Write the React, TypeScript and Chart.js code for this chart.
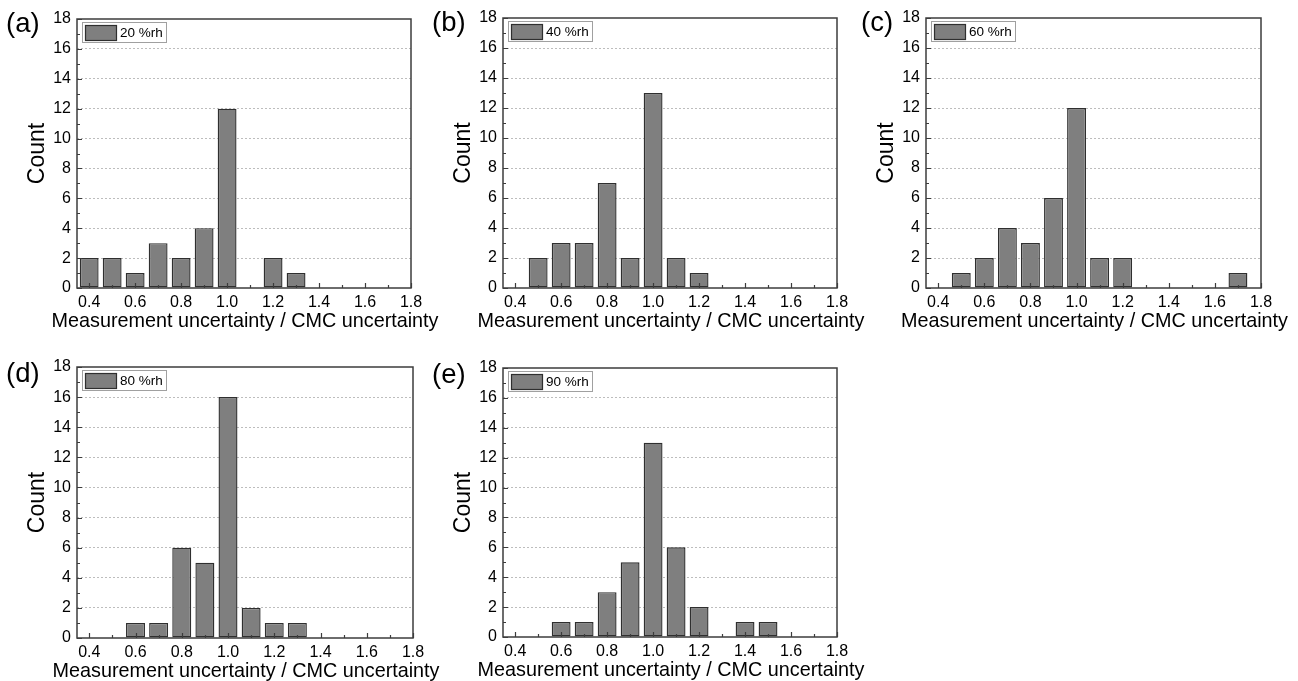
import React, { useEffect, useRef } from "react";
import { Chart, registerables } from "chart.js";

Chart.register(...registerables);

// ---------------- data ----------------
const bins = [0.4, 0.5, 0.6, 0.7, 0.8, 0.9, 1.0, 1.1, 1.2, 1.3, 1.4, 1.5, 1.6, 1.7];
const counts20 = [2, 2, 1, 3, 2, 4, 12, 0, 2, 1, 0, 0, 0, 0];
const counts40 = [0, 2, 3, 3, 7, 2, 13, 2, 1, 0, 0, 0, 0, 0];
const counts60 = [0, 1, 2, 4, 3, 6, 12, 2, 2, 0, 0, 0, 0, 1];
const counts80 = [0, 0, 1, 1, 6, 5, 16, 2, 1, 1, 0, 0, 0, 0];
const counts90 = [0, 0, 1, 1, 3, 5, 13, 6, 2, 0, 1, 1, 0, 0];
const seriesLabels = ["20 %rh", "40 %rh", "60 %rh", "80 %rh", "90 %rh"];
const panelLabels = ["(a)", "(b)", "(c)", "(d)", "(e)"];
const xTickValues = [0.4, 0.6, 0.8, 1.0, 1.2, 1.4, 1.6, 1.8];
const xMinorTickValues = [0.5, 0.7, 0.9, 1.1, 1.3, 1.5, 1.7];
const yTickValues = [0, 2, 4, 6, 8, 10, 12, 14, 16, 18];
const yMinorTickValues = [1, 3, 5, 7, 9, 11, 13, 15, 17];
const xMin = 0.347;
const xMax = 1.8;
const yMin = 0;
const yMax = 18;
const xTitle = "Measurement uncertainty / CMC uncertainty";
const yTitle = "Count";

// ---------------- layout (pixels) ----------------
const PAGE_W = 1298;
const PAGE_H = 681;
const Y_AXIS_W = 70;
const X_AXIS_H = 30;
const panelRects = [
  { L: 77, T: 19, R: 411, B: 288, lx: 6, ly: 32 },
  { L: 503, T: 18, R: 837, B: 288, lx: 432, ly: 30.5 },
  { L: 926, T: 18, R: 1261, B: 288, lx: 861, ly: 30.5 },
  { L: 77, T: 367, R: 413, B: 638, lx: 6, ly: 381.5 },
  { L: 503, T: 368, R: 837, B: 637, lx: 432, ly: 383 },
];
const allCounts = [counts20, counts40, counts60, counts80, counts90];

const FONT = '"Liberation Sans", Arial, Helvetica, sans-serif';
const BAR_FILL = "#7f7f7f";
const BAR_EDGE = "#2f2f2f";
const FRAME = "#3c3c3c";
const GRID = "#bdbdbd";

const decorPlugin = {
  id: "decor",
  afterDatasetsDraw(chart: any) {
    const ctx = chart.ctx;
    const { left: L, top: T, right: R, bottom: B } = chart.chartArea;
    const xs = chart.scales.x;
    const ys = chart.scales.y;
    ctx.save();
    ctx.strokeStyle = FRAME;
    ctx.lineWidth = 1.2;
    ctx.beginPath();
    const tick = (x1: number, y1: number, x2: number, y2: number) => {
      ctx.moveTo(x1, y1);
      ctx.lineTo(x2, y2);
    };
    xTickValues.forEach((v) => {
      const p = Math.round(xs.getPixelForValue(v)) + 0.5;
      tick(p, B, p, B - 5);
    });
    xMinorTickValues.forEach((v) => {
      const p = Math.round(xs.getPixelForValue(v)) + 0.5;
      tick(p, B, p, B - 3);
    });
    yTickValues.forEach((v) => {
      const p = Math.round(ys.getPixelForValue(v)) + 0.5;
      tick(L, p, L + 5, p);
    });
    yMinorTickValues.forEach((v) => {
      const p = Math.round(ys.getPixelForValue(v)) + 0.5;
      tick(L, p, L + 3, p);
    });
    ctx.stroke();
    ctx.lineWidth = 1.5;
    ctx.strokeRect(L, T, R - L, B - T);
    ctx.restore();
  },
  afterDraw(chart: any, _args: any, opts: any) {
    const ctx = chart.ctx;
    const { left: L, top: T, right: R, bottom: B } = chart.chartArea;
    const ds = chart.data.datasets[0];
    ctx.save();
    // legend
    ctx.fillStyle = "#ffffff";
    ctx.fillRect(L + 5, T + 3.5, 84, 20);
    ctx.strokeStyle = "#a0a0a0";
    ctx.lineWidth = 1;
    ctx.strokeRect(L + 5.5, T + 3.5, 84, 20);
    ctx.fillStyle = ds.backgroundColor;
    ctx.fillRect(L + 8.5, T + 6.5, 31, 15);
    ctx.strokeStyle = ds.borderColor;
    ctx.lineWidth = 1.2;
    ctx.strokeRect(L + 8.5, T + 6.5, 31, 15);
    ctx.fillStyle = "#000";
    ctx.font = `13.5px ${FONT}`;
    ctx.textAlign = "left";
    ctx.textBaseline = "middle";
    ctx.fillText(ds.label, L + 43, T + 14);
    // x title
    ctx.font = `19.8px ${FONT}`;
    ctx.textAlign = "center";
    ctx.textBaseline = "alphabetic";
    ctx.fillText(xTitle, (L + R) / 2 + 1, B + 39);
    // y title
    ctx.save();
    ctx.translate(L - 39.8, (T + B) / 2);
    ctx.rotate(-Math.PI / 2);
    ctx.font = `23px ${FONT}`;
    ctx.textAlign = "center";
    ctx.textBaseline = "middle";
    ctx.fillText(yTitle, 0, 0);
    ctx.restore();
    // panel label
    ctx.font = `27.5px ${FONT}`;
    ctx.textAlign = "left";
    ctx.textBaseline = "alphabetic";
    ctx.fillText(opts.text, opts.x, opts.y);
    ctx.restore();
  },
};

function Panel({ index }: { index: number }) {
  const ref = useRef<HTMLCanvasElement | null>(null);
  useEffect(() => {
    const r = panelRects[index];
    const counts = allCounts[index];
    const chart = new Chart(ref.current as HTMLCanvasElement, {
      type: "bar",
      data: {
        datasets: [
          {
            label: seriesLabels[index],
            data: bins.map((b, i) => ({ x: b, y: counts[i] > 0 ? counts[i] : null })) as any,
            backgroundColor: BAR_FILL,
            borderColor: BAR_EDGE,
            borderWidth: 1.4,
            borderSkipped: false,
            inflateAmount: 0,
            categoryPercentage: 1,
            barPercentage: 0.82,
          },
        ],
      },
      options: {
        animation: false,
        responsive: false,
        devicePixelRatio: 1,
        events: [],
        layout: {
          padding: {
            left: r.L - Y_AXIS_W,
            top: r.T,
            right: PAGE_W - r.R,
            bottom: PAGE_H - r.B - X_AXIS_H,
          },
        },
        plugins: {
          legend: { display: false },
          tooltip: { enabled: false },
          title: { display: false },
          decor: { text: panelLabels[index], x: r.lx, y: r.ly },
        } as any,
        scales: {
          x: {
            type: "linear",
            min: xMin,
            max: xMax,
            offset: false,
            grid: { display: false, drawTicks: false },
            border: { display: false },
            afterBuildTicks: (scale: any) => {
              scale.ticks = xTickValues.map((v) => ({ value: v }));
            },
            afterFit: (scale: any) => {
              scale.height = X_AXIS_H;
            },
            ticks: {
              color: "#000",
              font: { size: 16, family: FONT },
              padding: 5,
              maxRotation: 0,
              autoSkip: false,
              callback: (v: any) => Number(v).toFixed(1),
            },
          },
          y: {
            type: "linear",
            min: yMin,
            max: yMax,
            grid: {
              display: true,
              drawTicks: false,
              color: (c: any) =>
                c.tick && (c.tick.value === yMin || c.tick.value === yMax) ? "rgba(0,0,0,0)" : GRID,
              lineWidth: 1,
            },
            border: { display: false, dash: [2, 2] },
            afterBuildTicks: (scale: any) => {
              scale.ticks = yTickValues.map((v) => ({ value: v }));
            },
            afterFit: (scale: any) => {
              scale.width = Y_AXIS_W;
            },
            ticks: {
              color: "#000",
              font: { size: 16, family: FONT },
              padding: 6,
              autoSkip: false,
            },
          },
        },
      } as any,
      plugins: [decorPlugin as any],
    });
    return () => chart.destroy();
  }, [index]);
  return (
    <canvas
      ref={ref}
      width={PAGE_W}
      height={PAGE_H}
      style={{ position: "absolute", left: 0, top: 0, width: PAGE_W, height: PAGE_H }}
    />
  );
}

export default function App() {
  return (
    <div
      style={{
        position: "absolute",
        left: 0,
        top: 0,
        width: PAGE_W,
        height: PAGE_H,
        background: "#ffffff",
        overflow: "hidden",
      }}
    >
      {panelRects.map((_, i) => (
        <Panel key={i} index={i} />
      ))}
    </div>
  );
}
